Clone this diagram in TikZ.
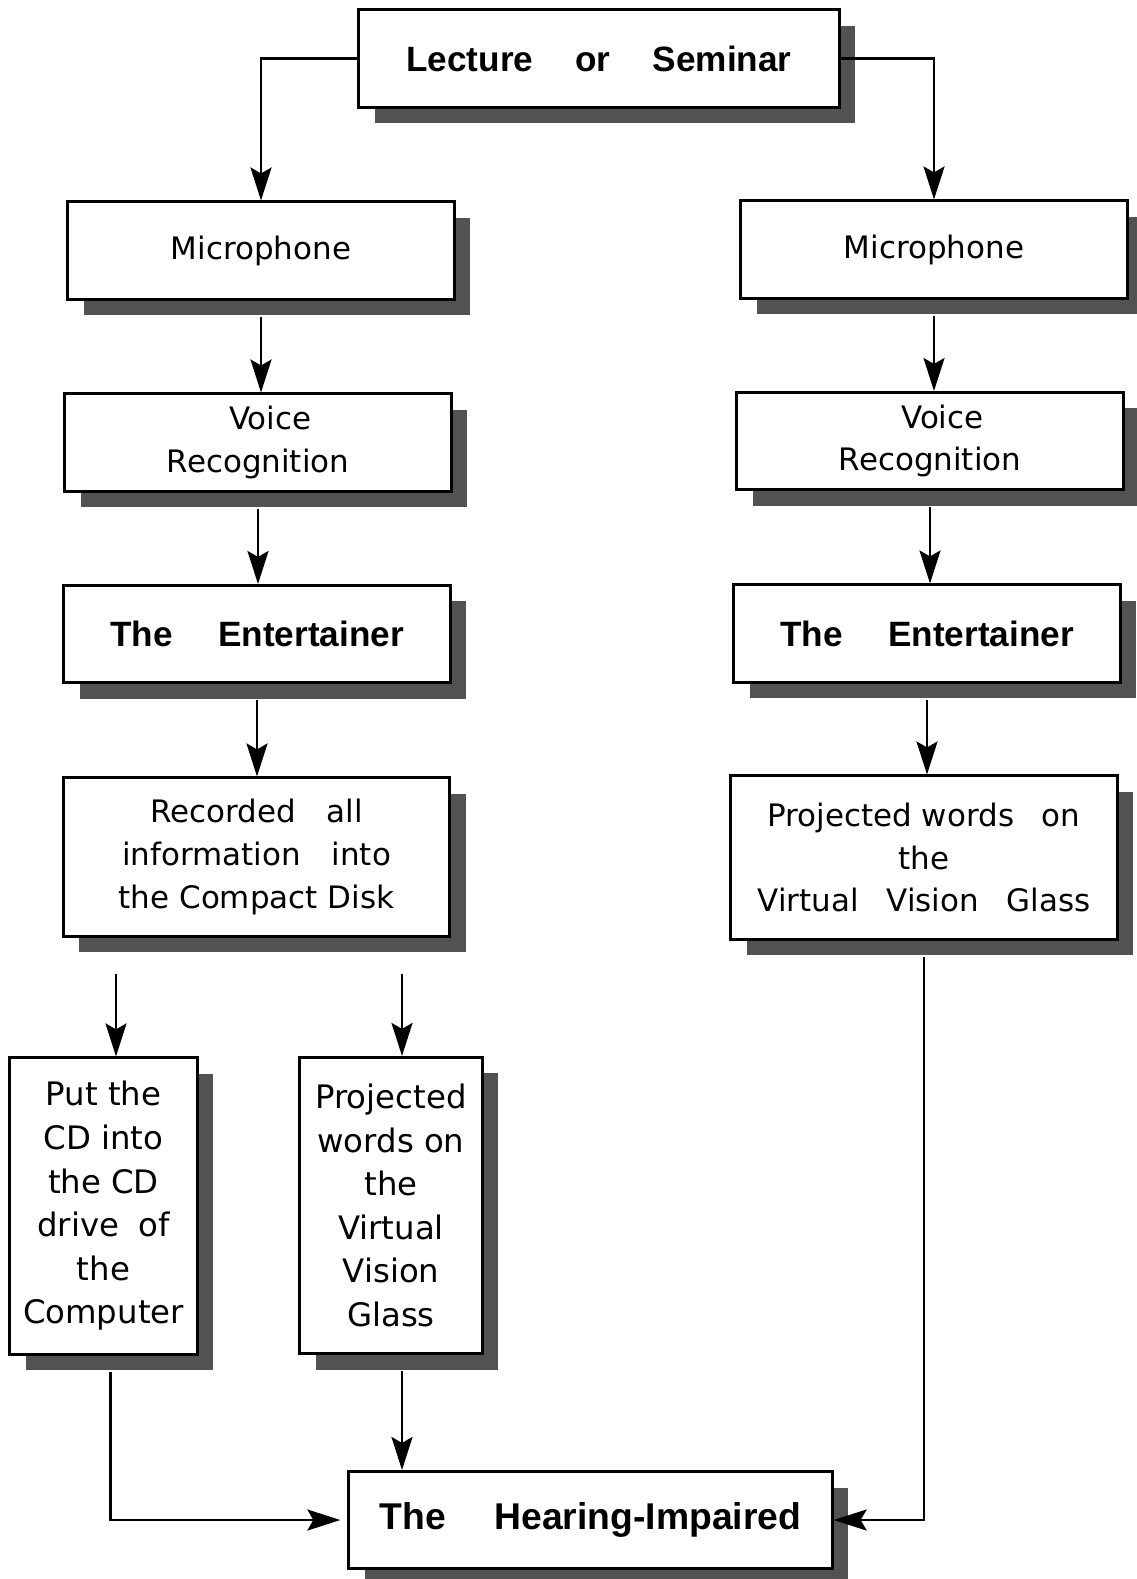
\documentclass[tikz,border=0pt]{standalone}
\usepackage{fontspec}
\setmainfont{DejaVu Sans}
\newfontfamily\headfont{Liberation Sans}
\usepackage{tikz}
\usetikzlibrary{arrows.meta, shadows, calc}

\begin{document}
\begin{tikzpicture}[x=0.01cm, y=-0.01cm,
    box/.style={draw, line width=0.85pt, fill=white, align=center, inner sep=2pt,
                minimum width=3.86cm, minimum height=0.97cm,
                font=\fontsize{8.8}{12.2}\selectfont,
                drop shadow={shadow xshift=0.16cm, shadow yshift=-0.16cm,
                             fill=black!68, opacity=1}},
    headbox/.style={box, font=\headfont\bfseries\fontsize{10}{12}\selectfont},
    tallbox/.style={box, minimum width=1.87cm, minimum height=2.96cm,
                    font=\fontsize{9.2}{12.4}\selectfont},
    arr/.style={-{Stealth[length=3.3mm, width=2.1mm, inset=0.6mm]}, line width=0.7pt},
]
\useasboundingbox (0,0) rectangle (1136,1579);

% Source
\node[headbox, minimum width=4.8cm] (src) at (599,58.5) {Lecture\hspace{1.2em}or\hspace{1.2em}Seminar};

% Left branch: recorded on CD
\node[box] (micL) at (261,250.5) {Microphone};
\node[box] (vrL) at (258,442.5) {\hspace{0.8em}Voice\\Recognition};
\node[headbox] (entL) at (257,634) {The\hspace{1.3em}Entertainer};
\node[box, minimum height=1.58cm] (recL) at (256.5,857) {
  Recorded\hspace{1em}all\\
  information\hspace{1em}into\\
  the Compact Disk
};
\node[tallbox] (cd) at (103.5,1206) {Put the\\CD into\\the CD\\drive\hspace{0.6em}of\\the\\Computer};
\node[tallbox, minimum width=1.82cm] (glassL) at (391,1205.5) {Projected\\words on\\the\\Virtual\\Vision\\Glass};

% Right branch: live projection
\node[box] (micR) at (934,249.5) {Microphone};
\node[box] (vrR) at (930,441) {\hspace{0.8em}Voice\\Recognition};
\node[headbox] (entR) at (927,633.5) {The\hspace{1.3em}Entertainer};
\node[box, minimum height=1.63cm] (glassR) at (924,857.5) {
  Projected words\hspace{0.9em}on\\
  the\\
  Virtual\hspace{0.9em}Vision\hspace{0.9em}Glass
};

% Target
\node[headbox, minimum width=4.83cm, font=\headfont\bfseries\fontsize{10.6}{12}\selectfont]
  (hear) at (590.5,1520) {The\hspace{1.3em}Hearing-Impaired};

% helper points off the box centres
\coordinate (cdin) at ($(cd.north)+(12.5,0)$);
\coordinate (glin) at ($(glassL.north)+(11,0)$);
\coordinate (cdout) at ($(cd.south)+(7,0)$);
\coordinate (glout) at ($(glassL.south)+(11,0)$);

\draw[arr] (src.west) -| (micL.north);
\draw[arr] (src.east) -| (micR.north);

\draw[arr, shorten <=0.16cm] (micL.south) -- (micL.south |- vrL.north);
\draw[arr, shorten <=0.16cm] (vrL.south) -- (vrL.south |- entL.north);
\draw[arr, shorten <=0.16cm] (entL.south) -- (entL.south |- recL.north);
\draw[arr, shorten <=0.36cm] (cdin |- recL.south) -- (cdin);
\draw[arr, shorten <=0.36cm] (glin |- recL.south) -- (glin);

\draw[arr, shorten <=0.16cm] (micR.south) -- (micR.south |- vrR.north);
\draw[arr, shorten <=0.16cm] (vrR.south) -- (vrR.south |- entR.north);
\draw[arr, shorten <=0.16cm] (entR.south) -- (entR.south |- glassR.north);

\draw[arr, shorten <=0.16cm, shorten >=0.07cm] (cdout) |- (hear.west);
\draw[arr, shorten <=0.16cm] (glout) -- (glout |- hear.north);
\draw[arr, shorten <=0.16cm] (glassR.south) |- (hear.east);

\end{tikzpicture}
\end{document}
